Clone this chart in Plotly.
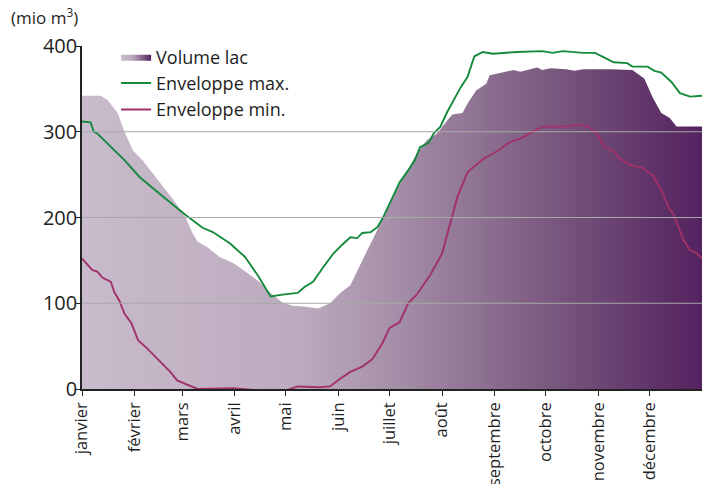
import plotly.graph_objects as go

# Day-of-year (0..365) and values in mio m3
vol_days = [0, 11, 15, 21, 25, 30, 36, 44, 54, 61, 65, 68, 74, 81, 89, 97, 105, 111, 118, 124, 132, 139,
            146, 152, 158, 165, 173, 179, 185, 191, 195, 197, 203, 209, 215, 218, 224, 227, 232, 238, 240,
            245, 254, 258, 262, 265, 268, 271, 276, 285, 290, 295, 311, 324, 331, 336, 341, 346, 350, 365]
vol_vals = [342, 342, 337, 322, 300, 278, 266, 246, 220, 200, 182, 172, 165, 154, 147, 136, 124, 112, 101, 97, 96, 94,
            100, 112, 121, 150, 182, 209, 232, 252, 267, 275, 290, 298, 313, 320, 322, 333, 348, 356, 366,
            368, 372, 370, 372, 374, 375, 372, 374, 373, 371, 373, 373, 372, 362, 340, 322, 316, 306, 306]

max_days = [0, 5, 7, 9, 25, 34, 48, 61, 71, 77, 87, 96, 104, 111, 118, 127, 131, 136, 142, 148, 153, 158,
            162, 165, 170, 174, 177, 183, 187, 192, 196, 199, 204, 207, 211, 215, 223, 227, 231, 236, 242,
            256, 268, 271, 277, 283, 295, 302, 307, 313, 321, 324, 333, 337, 341, 347, 352, 358, 365]
max_vals = [312, 311, 300, 298, 267, 247, 224, 203, 188, 183, 170, 154, 131, 108, 110, 112, 119, 125, 142, 158, 168, 177,
            176, 182, 183, 189, 199, 224, 241, 255, 267, 282, 287, 298, 306, 323, 352, 364, 388, 393, 391,
            393, 394, 394, 392, 394, 392, 392, 387, 381, 380, 376, 376, 371, 369, 358, 345, 341, 342]

min_days = [0, 6, 9, 12, 17, 19, 22, 25, 29, 33, 38, 43, 48, 52, 56, 61, 68, 89, 101, 121, 127, 140, 146,
            152, 158, 165, 171, 177, 181, 187, 192, 197, 205, 212, 217, 221, 227, 236, 244, 252, 258, 265,
            271, 283, 293, 298, 303, 307, 313, 317, 323, 330, 336, 341, 346, 348, 354, 358, 362, 365]
min_vals = [152, 139, 137, 130, 125, 113, 103, 88, 77, 57, 48, 38, 28, 20, 10, 6, 0, 1, -1, -1, 3, 2, 3,
            12, 20, 26, 35, 54, 71, 78, 100, 110, 133, 158, 193, 224, 253, 268, 277, 288, 292, 300,
            306, 306, 308, 306, 298, 284, 277, 268, 261, 258, 249, 232, 209, 205, 174, 162, 158, 152]

month_starts = [0, 31, 59, 90, 120, 151, 181, 212, 243, 273, 304, 334]
month_names = ["janvier", "février", "mars", "avril", "mai", "juin", "juillet", "août",
               "septembre", "octobre", "novembre", "décembre"]
y_ticks = [0, 100, 200, 300, 400]
grid_levels = [100, 200, 300]

FONT = "Open Sans"
TXT = "#1e1e1e"

fig = go.Figure()
fig.add_trace(go.Scatter(
    x=vol_days, y=vol_vals, name="Volume lac", mode="lines",
    line=dict(width=0, color="#6a3f70"), fill="tozeroy",
    fillgradient=dict(type="horizontal", colorscale=[
        [0.0, "#c8bbcb"], [0.35, "#bcaabe"], [0.5, "#a690a9"],
        [0.65, "#8c7090"], [0.8, "#724f78"], [1.0, "#542260"]]),
    hoverinfo="skip"))
fig.add_trace(go.Scatter(x=max_days, y=max_vals, name="Enveloppe max.", mode="lines",
                         line=dict(color="#168a3c", width=1.9)))
fig.add_trace(go.Scatter(x=min_days, y=min_vals, name="Enveloppe min.", mode="lines",
                         line=dict(color="#a23069", width=1.9)))

for g in grid_levels:
    fig.add_shape(type="line", xref="paper", x0=0, x1=1, yref="y", y0=g, y1=g,
                  line=dict(color="#a8a8a8", width=1.2), layer="above")

fig.update_layout(
    width=702, height=484,
    margin=dict(l=82, r=0, t=46, b=95, autoexpand=False),
    paper_bgcolor="white", plot_bgcolor="white",
    font=dict(family=FONT, size=17, color=TXT),
    showlegend=True,
    legend=dict(x=0.055, y=1.022, xanchor="left", yanchor="top", bgcolor="rgba(0,0,0,0)",
                font=dict(size=18, color=TXT), itemwidth=30, tracegroupgap=0),
    annotations=[dict(text="(mio m<sup>3</sup>)", xref="paper", yref="paper", x=-0.117, y=1.045,
                      xanchor="left", yanchor="bottom", showarrow=False,
                      font=dict(size=17, color=TXT))],
)
fig.update_xaxes(range=[0, 365], tickmode="array", tickvals=month_starts, ticktext=month_names,
                 tickangle=-90, ticks="outside", ticklen=5, tickcolor="#222", showline=True,
                 linecolor="#222", linewidth=1.5, showgrid=False, zeroline=False,
                 tickfont=dict(size=16.5, color=TXT))
fig.update_yaxes(range=[0, 400], tickmode="array", tickvals=y_ticks, ticks="outside", ticklen=4,
                 tickcolor="#222", showline=True, linecolor="#222", linewidth=1.5, showgrid=False,
                 zeroline=False, tickfont=dict(size=20, color=TXT), ticklabelstandoff=-5)

fig.write_html("out.html", config={"displayModeBar": False},
               post_script="document.body.style.margin='0';document.body.style.overflow='hidden';")
